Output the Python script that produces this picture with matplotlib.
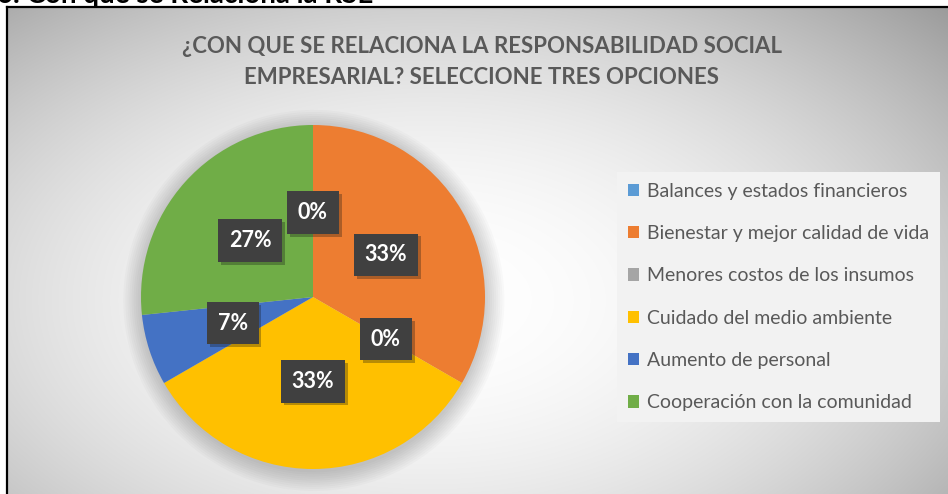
import numpy as np
import matplotlib
matplotlib.use("Agg")
import matplotlib.pyplot as plt
import matplotlib.patheffects as pe
from matplotlib.patches import Circle

plt.rcParams['font.family'] = ['Lato', 'DejaVu Sans']

titulo = "¿CON QUE SE RELACIONA LA RESPONSABILIDAD SOCIAL\nEMPRESARIAL? SELECCIONE TRES OPCIONES"
encabezado = "6. Con que se Relaciona la RSE"
categorias = ["Balances y estados financieros",
              "Bienestar y mejor calidad de vida",
              "Menores costos de los insumos",
              "Cuidado del medio ambiente",
              "Aumento de personal",
              "Cooperación con la comunidad"]
respuestas = [0, 5, 0, 5, 1, 4]
colores = ["#5B9BD5", "#ED7D31", "#A5A5A5", "#FFC000", "#4472C4", "#70AD47"]

W, H = 948, 494
fig = plt.figure(figsize=(W / 100, H / 100), dpi=100)

# fondo con degradado radial
bg = fig.add_axes([0, 0, 1, 1], zorder=-5)
yy, xx = np.mgrid[0:H, 0:W]
d = np.sqrt(((xx - 430) / 560.0) ** 2 + ((yy - 300) / 330.0) ** 2)
val = 1.0 - 0.24 * np.clip(d, 0, 1.3) ** 2
img = np.dstack([val, val, val])
img[:7, :, :] = 1.0
img[:, :7, :] = 1.0
bg.imshow(np.clip(img, 0, 1), extent=[0, W, H, 0], aspect='auto', interpolation='bilinear')
bg.plot([7, W], [7, 7], color='black', lw=1.6)
bg.plot([7, 7], [7, H], color='black', lw=1.6)
bg.set_xlim(0, W)
bg.set_ylim(H, 0)
bg.axis('off')

# encabezado del documento, recortado arriba como en el original
fig.text(-0.003, 1 - 3 / H, encabezado, fontsize=20, fontweight='bold',
         color='black', va='baseline', ha='left')

fig.text(482 / W, 1 - 62 / H, titulo, fontsize=16, fontweight='bold',
         color='#595959', ha='center', va='center', linespacing=1.55)

cx, cy, r = 313, 297, 172
ax = fig.add_axes([(cx - r) / W, (H - cy - r) / H, 2 * r / W, 2 * r / H])
# sombra suave del pastel
for k in range(10):
    ax.add_patch(Circle((0.005, -0.02), 1.0 + 0.012 * k, color='black', alpha=0.018,
                        lw=0, zorder=0, clip_on=False))
wedges, _ = ax.pie(respuestas, colors=colores, startangle=90, counterclock=False,
                   wedgeprops=dict(linewidth=0))
ax.set_aspect('auto')
ax.set_xlim(-1, 1)
ax.set_ylim(-1, 1)

total = sum(respuestas)
ang = 90.0
for v in respuestas:
    span = 360.0 * v / total
    mid = np.deg2rad(ang - span / 2)
    ang -= span
    t = ax.text(0.49 * np.cos(mid), 0.49 * np.sin(mid), f"{round(100 * v / total)}%",
                ha='center', va='center', fontsize=15.5, fontweight='bold', color='white',
                bbox=dict(boxstyle='square,pad=0.5', fc='#404040', ec='none'))
    t.get_bbox_patch().set_path_effects([pe.SimplePatchShadow(offset=(2, -2), alpha=0.3),
                                         pe.Normal()])

leg = fig.legend(wedges, categorias, loc='center left',
                 bbox_to_anchor=(617 / W, (H - 297) / H), fontsize=14,
                 frameon=True, fancybox=False, facecolor='#f2f2f2', edgecolor='none',
                 framealpha=1, labelspacing=1.3, handlelength=0.6, handleheight=0.6,
                 handletextpad=0.4, borderpad=0.55, borderaxespad=0)
for txt in leg.get_texts():
    txt.set_color('#595959')

fig.savefig("out.png", dpi=100)
